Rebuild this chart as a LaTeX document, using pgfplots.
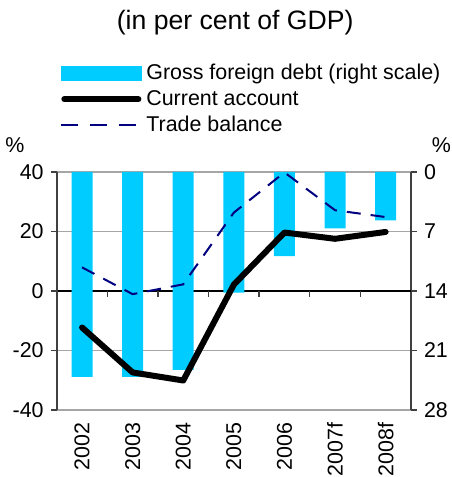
\documentclass[border=0pt]{standalone}
\usepackage{fontspec}
\setmainfont{Liberation Sans}
\usepackage{pgfplots}
\pgfplotsset{compat=1.18}
\definecolor{debtcol}{HTML}{00CCFF}
\definecolor{tradecol}{HTML}{000080}
\definecolor{gridcol}{HTML}{A6A6A6}
\definecolor{axcol}{HTML}{404040}

\newcommand{\chartfont}{\fontsize{10.7}{12.8}\selectfont}

\pgfplotsset{
  base/.style={
    scale only axis, width=177pt, height=119pt,
    xmin=-0.5, xmax=6.5,
    tick align=outside, major tick length=3pt,
    /pgf/number format/assume math mode=true,
    ticklabel style={font=\chartfont},
    y axis line style={axcol, line width=0.8pt},
    major y tick style={axcol, line width=0.8pt},
  },
  boxlegend/.style={legend image code/.code={
    \fill[debtcol] (0pt,-3.5pt) rectangle (40pt,3.5pt);}},
  cabar/.style={legend image code/.code={
    \draw[##1] (1.5pt,0pt) -- (38.5pt,0pt);}},
  tblegend/.style={legend image code/.code={
    \draw[##1, dash pattern=on 8.5pt off 5.8pt] (0pt,0pt) -- (40pt,0pt);}},
}

\begin{document}
\begin{tikzpicture}[font=\chartfont]
\path[use as bounding box] (-28.35pt,-33.5pt) rectangle (197.15pt,204.85pt);

% right scale: gross foreign debt, bars hanging from the top
% (14 on this scale is 0 on the left one: the zero line sits behind the bars)
\begin{axis}[
  base,
  ymin=0, ymax=28, y dir=reverse,
  axis y line*=right, axis x line=none,
  ytick={0,7,14,21,28},
  ymajorgrids, grid style={gridcol, line width=0.7pt},
]
\draw[black, line width=0.7pt] (axis cs:-0.5,14) -- (axis cs:6.5,14);
\draw[axcol, line width=0.7pt] (axis cs:0.5,14) -- ++(0pt,-3pt);
\draw[axcol, line width=0.7pt] (axis cs:1.5,14) -- ++(0pt,-3pt);
\draw[axcol, line width=0.7pt] (axis cs:2.5,14) -- ++(0pt,-3pt);
\draw[axcol, line width=0.7pt] (axis cs:3.5,14) -- ++(0pt,-3pt);
\draw[axcol, line width=0.7pt] (axis cs:4.5,14) -- ++(0pt,-3pt);
\draw[axcol, line width=0.7pt] (axis cs:5.5,14) -- ++(0pt,-3pt);
\addplot[ybar, bar width=10.5pt, fill=debtcol, draw=none] coordinates {
  (0,24.1) (1,24.1) (2,23.3) (3,14.2) (4,9.9) (5,6.65) (6,5.7)
};
\end{axis}

% left scale: current account and trade balance
\begin{axis}[
  base,
  ymin=-40, ymax=40,
  axis y line*=left, axis x line*=bottom,
  x axis line style={draw=none},
  xtick={0,1,2,3,4,5,6},
  xticklabels={2002,2003,2004,2005,2006,2007f,2008f},
  major x tick style={draw=none},
  x tick label style={rotate=90, anchor=east},
  ytick={-40,-20,0,20,40},
  legend style={draw=none, fill=none, at={(axis description cs:0.009,1.47)},
    anchor=north west, font=\chartfont,
    row sep=-0.3pt, inner sep=0pt,
    nodes={inner sep=2pt}},
  legend cell align=left,
]
\addlegendimage{boxlegend}
\addlegendentry{Gross foreign debt (right scale)}
\addplot[black, line width=3pt, line cap=round, line join=round, cabar]
  coordinates {
  (0,-12.3) (1,-27.4) (2,-30.1) (3,2.1) (4,19.6) (5,17.5) (6,19.8)
};
\addlegendentry{Current account}
\addplot[tradecol, line width=1pt, dash pattern=on 7pt off 5pt, tblegend]
  coordinates {
  (0,7.9) (1,-1.1) (2,2.2) (3,26.3) (4,39.8) (5,27.1) (6,24.8)
};
\addlegendentry{Trade balance}
\end{axis}

\node[font=\fontsize{13.3}{15.5}\selectfont] at (89.15pt,193.5pt) {(in per cent of GDP)};
\node at (-20.85pt,132.5pt) {\%};
\node at (192.15pt,132.5pt) {\%};
\end{tikzpicture}
\end{document}
